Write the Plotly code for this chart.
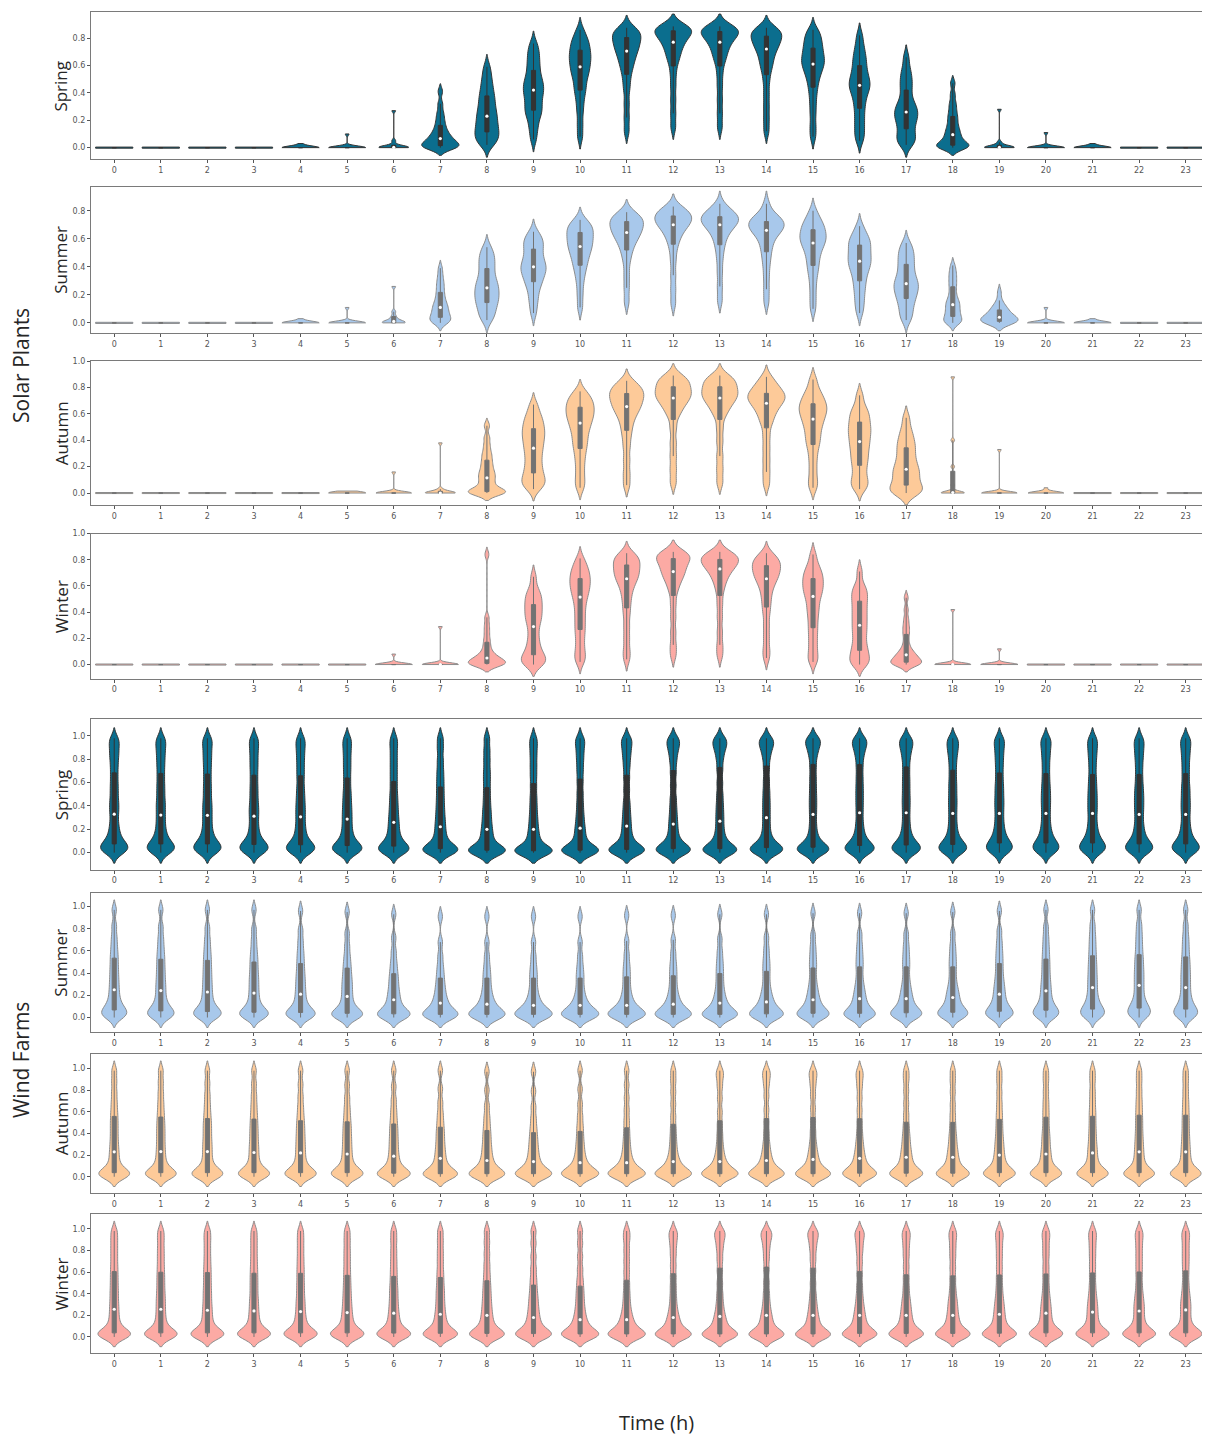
import numpy as np
import plotly.graph_objects as go

# ---------------- data: representative quantile samples read per hour ----------------
hours = list(range(24))
hour_labels = [str(h) for h in hours]

NIGHT = [0, 0, 0, 0, 0, 0, 0, 0, 0, 0, 0]

solar_spring = [
    NIGHT, NIGHT, NIGHT, NIGHT,
    [0, 0, 0, 0, 0, 0, 0, 0, 0, 0, 0.03],
    [0, 0, 0, 0, 0, 0, 0, 0, 0, 0.003, 0.10],
    [0, 0, 0, 0, 0, 0.002, 0.005, 0.01, 0.02, 0.05, 0.27],
    [0, 0, 0.002, 0.005, 0.01, 0.016, 0.025, 0.035, 0.045, 0.055, 0.066, 0.078, 0.092, 0.11, 0.13, 0.155, 0.185, 0.22, 0.26, 0.32, 0.41],
    [0.02, 0.04, 0.06, 0.08, 0.10, 0.12, 0.14, 0.16, 0.185, 0.21, 0.23, 0.255, 0.28, 0.31, 0.34, 0.37, 0.40, 0.44, 0.48, 0.53, 0.59],
    [0.06, 0.13, 0.18, 0.23, 0.255, 0.28, 0.31, 0.34, 0.37, 0.395, 0.42, 0.44, 0.465, 0.49, 0.515, 0.555, 0.59, 0.63, 0.67, 0.71, 0.76],
    [0.08, 0.17, 0.26, 0.33, 0.39, 0.43, 0.47, 0.51, 0.54, 0.565, 0.59, 0.615, 0.64, 0.66, 0.68, 0.705, 0.73, 0.755, 0.78, 0.81, 0.86],
    [0.12, 0.22, 0.32, 0.42, 0.49, 0.55, 0.59, 0.625, 0.655, 0.68, 0.705, 0.725, 0.745, 0.76, 0.78, 0.80, 0.815, 0.83, 0.845, 0.86, 0.875],
    [0.15, 0.25, 0.35, 0.45, 0.54, 0.615, 0.655, 0.69, 0.72, 0.745, 0.77, 0.79, 0.805, 0.82, 0.835, 0.85, 0.86, 0.87, 0.875, 0.88, 0.885],
    [0.15, 0.25, 0.35, 0.45, 0.54, 0.615, 0.655, 0.69, 0.72, 0.745, 0.77, 0.79, 0.805, 0.82, 0.83, 0.845, 0.855, 0.865, 0.87, 0.88, 0.885],
    [0.12, 0.21, 0.30, 0.39, 0.48, 0.55, 0.595, 0.63, 0.665, 0.695, 0.72, 0.74, 0.76, 0.775, 0.79, 0.81, 0.825, 0.84, 0.85, 0.86, 0.875],
    [0.08, 0.16, 0.25, 0.33, 0.40, 0.455, 0.50, 0.535, 0.565, 0.59, 0.61, 0.63, 0.65, 0.67, 0.695, 0.72, 0.745, 0.77, 0.80, 0.83, 0.86],
    [0.05, 0.10, 0.15, 0.20, 0.25, 0.30, 0.34, 0.38, 0.41, 0.435, 0.455, 0.475, 0.50, 0.525, 0.555, 0.59, 0.625, 0.66, 0.70, 0.75, 0.82],
    [0.02, 0.04, 0.06, 0.085, 0.115, 0.145, 0.175, 0.20, 0.22, 0.24, 0.26, 0.28, 0.30, 0.325, 0.36, 0.41, 0.45, 0.49, 0.53, 0.58, 0.66],
    [0.0, 0.0, 0.003, 0.008, 0.013, 0.02, 0.03, 0.045, 0.06, 0.077, 0.095, 0.115, 0.135, 0.16, 0.19, 0.22, 0.25, 0.29, 0.33, 0.39, 0.47],
    [0, 0, 0, 0, 0, 0.002, 0.005, 0.01, 0.02, 0.04, 0.28],
    [0, 0, 0, 0, 0, 0, 0, 0, 0, 0.002, 0.11],
    [0, 0, 0, 0, 0, 0, 0, 0, 0, 0, 0.03],
    NIGHT, NIGHT,
]

solar_summer = [
    NIGHT, NIGHT, NIGHT, NIGHT,
    [0, 0, 0, 0, 0, 0, 0, 0, 0, 0, 0.03],
    [0, 0, 0, 0, 0, 0, 0, 0, 0, 0.005, 0.11],
    [0, 0, 0, 0.002, 0.005, 0.01, 0.02, 0.03, 0.05, 0.08, 0.26],
    [0.0, 0.005, 0.012, 0.022, 0.032, 0.042, 0.055, 0.068, 0.082, 0.096, 0.11, 0.125, 0.14, 0.16, 0.185, 0.21, 0.24, 0.27, 0.30, 0.34, 0.39],
    [0.02, 0.045, 0.075, 0.105, 0.13, 0.15, 0.17, 0.19, 0.21, 0.23, 0.25, 0.27, 0.29, 0.315, 0.345, 0.38, 0.41, 0.44, 0.47, 0.50, 0.54],
    [0.07, 0.14, 0.19, 0.24, 0.275, 0.30, 0.325, 0.35, 0.37, 0.385, 0.40, 0.42, 0.44, 0.465, 0.49, 0.52, 0.545, 0.57, 0.59, 0.61, 0.65],
    [0.11, 0.20, 0.28, 0.34, 0.385, 0.42, 0.45, 0.48, 0.505, 0.525, 0.545, 0.565, 0.585, 0.60, 0.62, 0.64, 0.66, 0.675, 0.69, 0.71, 0.735],
    [0.15, 0.25, 0.34, 0.43, 0.49, 0.53, 0.565, 0.59, 0.61, 0.63, 0.645, 0.66, 0.675, 0.69, 0.705, 0.72, 0.73, 0.745, 0.755, 0.77, 0.79],
    [0.14, 0.24, 0.34, 0.44, 0.52, 0.575, 0.61, 0.64, 0.665, 0.685, 0.70, 0.712, 0.724, 0.736, 0.748, 0.76, 0.772, 0.785, 0.795, 0.81, 0.83],
    [0.16, 0.26, 0.36, 0.45, 0.52, 0.57, 0.61, 0.64, 0.665, 0.685, 0.70, 0.712, 0.723, 0.734, 0.745, 0.755, 0.767, 0.78, 0.79, 0.81, 0.85],
    [0.15, 0.24, 0.33, 0.41, 0.47, 0.52, 0.56, 0.595, 0.625, 0.645, 0.66, 0.672, 0.684, 0.696, 0.708, 0.72, 0.732, 0.745, 0.76, 0.78, 0.85],
    [0.10, 0.18, 0.26, 0.33, 0.38, 0.42, 0.46, 0.495, 0.525, 0.55, 0.57, 0.59, 0.605, 0.62, 0.64, 0.66, 0.68, 0.70, 0.72, 0.75, 0.80],
    [0.07, 0.13, 0.18, 0.23, 0.27, 0.31, 0.345, 0.375, 0.40, 0.42, 0.44, 0.46, 0.48, 0.505, 0.525, 0.55, 0.57, 0.59, 0.61, 0.64, 0.69],
    [0.02, 0.05, 0.09, 0.125, 0.155, 0.18, 0.205, 0.225, 0.245, 0.265, 0.28, 0.30, 0.32, 0.35, 0.38, 0.41, 0.44, 0.47, 0.50, 0.53, 0.57],
    [0.0, 0.003, 0.01, 0.02, 0.035, 0.05, 0.065, 0.08, 0.097, 0.113, 0.13, 0.145, 0.16, 0.185, 0.215, 0.25, 0.28, 0.31, 0.34, 0.37, 0.41],
    [0, 0, 0, 0.003, 0.007, 0.012, 0.018, 0.025, 0.03, 0.035, 0.04, 0.047, 0.055, 0.065, 0.075, 0.09, 0.10, 0.11, 0.13, 0.16, 0.22],
    [0, 0, 0, 0, 0, 0, 0, 0, 0, 0.003, 0.11],
    [0, 0, 0, 0, 0, 0, 0, 0, 0, 0, 0.03],
    NIGHT, NIGHT,
]

solar_autumn = [
    NIGHT, NIGHT, NIGHT, NIGHT, NIGHT,
    [0, 0, 0, 0, 0, 0, 0, 0, 0, 0, 0.015],
    [0, 0, 0, 0, 0, 0, 0, 0, 0, 0.003, 0.16],
    [0, 0, 0, 0, 0, 0, 0.003, 0.008, 0.015, 0.03, 0.38],
    [0, 0, 0.002, 0.005, 0.008, 0.012, 0.025, 0.045, 0.07, 0.092, 0.115, 0.135, 0.155, 0.18, 0.21, 0.24, 0.275, 0.31, 0.36, 0.42, 0.51],
    [0.03, 0.06, 0.08, 0.10, 0.13, 0.16, 0.195, 0.23, 0.27, 0.305, 0.34, 0.37, 0.40, 0.43, 0.455, 0.48, 0.51, 0.54, 0.57, 0.61, 0.67],
    [0.04, 0.10, 0.17, 0.24, 0.30, 0.35, 0.39, 0.43, 0.47, 0.50, 0.53, 0.555, 0.58, 0.60, 0.62, 0.645, 0.665, 0.685, 0.71, 0.735, 0.77],
    [0.06, 0.15, 0.25, 0.35, 0.43, 0.49, 0.54, 0.58, 0.61, 0.635, 0.655, 0.675, 0.695, 0.715, 0.73, 0.75, 0.765, 0.78, 0.80, 0.82, 0.85],
    [0.08, 0.18, 0.28, 0.38, 0.49, 0.58, 0.62, 0.655, 0.68, 0.70, 0.72, 0.735, 0.75, 0.765, 0.78, 0.80, 0.82, 0.84, 0.855, 0.87, 0.89],
    [0.08, 0.18, 0.28, 0.39, 0.49, 0.58, 0.62, 0.655, 0.68, 0.70, 0.72, 0.735, 0.75, 0.765, 0.78, 0.80, 0.82, 0.84, 0.855, 0.87, 0.89],
    [0.07, 0.16, 0.25, 0.34, 0.43, 0.515, 0.56, 0.60, 0.63, 0.655, 0.68, 0.695, 0.71, 0.725, 0.738, 0.75, 0.77, 0.79, 0.81, 0.84, 0.88],
    [0.04, 0.10, 0.18, 0.26, 0.33, 0.38, 0.42, 0.46, 0.50, 0.53, 0.56, 0.585, 0.61, 0.63, 0.65, 0.67, 0.695, 0.72, 0.75, 0.79, 0.86],
    [0.03, 0.06, 0.09, 0.13, 0.18, 0.22, 0.26, 0.29, 0.33, 0.36, 0.39, 0.42, 0.45, 0.475, 0.50, 0.53, 0.56, 0.59, 0.62, 0.66, 0.74],
    [0.0, 0.003, 0.01, 0.025, 0.045, 0.065, 0.09, 0.115, 0.14, 0.16, 0.18, 0.205, 0.235, 0.265, 0.30, 0.335, 0.365, 0.40, 0.44, 0.49, 0.57],
    [0, 0, 0, 0, 0.001, 0.004, 0.015, 0.06, 0.20, 0.40, 0.88],
    [0, 0, 0, 0, 0, 0, 0, 0, 0, 0.003, 0.33],
    [0, 0, 0, 0, 0, 0, 0, 0, 0, 0, 0.04],
    NIGHT, NIGHT, NIGHT,
]

solar_winter = [
    NIGHT, NIGHT, NIGHT, NIGHT, NIGHT, NIGHT,
    [0, 0, 0, 0, 0, 0, 0, 0, 0, 0, 0.08],
    [0, 0, 0, 0, 0, 0, 0, 0, 0.003, 0.01, 0.29],
    [0, 0, 0, 0.002, 0.005, 0.01, 0.017, 0.025, 0.033, 0.041, 0.05, 0.062, 0.075, 0.095, 0.125, 0.16, 0.20, 0.25, 0.30, 0.36, 0.84],
    [0.0, 0.005, 0.02, 0.04, 0.06, 0.08, 0.11, 0.15, 0.19, 0.24, 0.29, 0.33, 0.36, 0.39, 0.42, 0.45, 0.48, 0.51, 0.54, 0.58, 0.67],
    [0.02, 0.06, 0.11, 0.17, 0.23, 0.28, 0.33, 0.38, 0.43, 0.475, 0.515, 0.545, 0.575, 0.60, 0.625, 0.65, 0.675, 0.70, 0.73, 0.76, 0.81],
    [0.04, 0.11, 0.20, 0.29, 0.38, 0.45, 0.51, 0.56, 0.60, 0.63, 0.655, 0.675, 0.695, 0.715, 0.735, 0.755, 0.775, 0.795, 0.81, 0.83, 0.85],
    [0.07, 0.15, 0.25, 0.36, 0.46, 0.55, 0.60, 0.64, 0.665, 0.69, 0.71, 0.73, 0.75, 0.77, 0.79, 0.805, 0.82, 0.83, 0.84, 0.85, 0.86],
    [0.07, 0.15, 0.25, 0.36, 0.46, 0.55, 0.61, 0.65, 0.68, 0.71, 0.73, 0.745, 0.76, 0.775, 0.79, 0.80, 0.81, 0.825, 0.835, 0.845, 0.86],
    [0.05, 0.12, 0.21, 0.30, 0.39, 0.455, 0.51, 0.56, 0.60, 0.63, 0.655, 0.675, 0.695, 0.715, 0.73, 0.75, 0.77, 0.785, 0.80, 0.82, 0.85],
    [0.02, 0.06, 0.12, 0.18, 0.24, 0.295, 0.35, 0.40, 0.44, 0.485, 0.52, 0.55, 0.575, 0.60, 0.625, 0.65, 0.675, 0.70, 0.73, 0.77, 0.84],
    [0.0, 0.01, 0.03, 0.06, 0.09, 0.115, 0.15, 0.19, 0.23, 0.265, 0.30, 0.335, 0.37, 0.405, 0.44, 0.475, 0.51, 0.54, 0.57, 0.61, 0.71],
    [0.0, 0.0, 0.003, 0.008, 0.014, 0.02, 0.03, 0.042, 0.052, 0.063, 0.074, 0.088, 0.105, 0.13, 0.17, 0.22, 0.26, 0.30, 0.35, 0.42, 0.51],
    [0, 0, 0, 0, 0, 0, 0, 0, 0.003, 0.01, 0.42],
    [0, 0, 0, 0, 0, 0, 0, 0, 0, 0, 0.12],
    NIGHT, NIGHT, NIGHT, NIGHT,
]

wind_spring = [
    [0.0, 0.015, 0.03, 0.045, 0.06, 0.08, 0.11, 0.15, 0.20, 0.26, 0.33, 0.39, 0.45, 0.52, 0.59, 0.665, 0.74, 0.81, 0.87, 0.93, 0.98],
    [0.0, 0.015, 0.03, 0.045, 0.06, 0.08, 0.11, 0.15, 0.20, 0.26, 0.322, 0.385, 0.445, 0.515, 0.585, 0.66, 0.735, 0.805, 0.87, 0.93, 0.98],
    [0.0, 0.015, 0.03, 0.045, 0.06, 0.08, 0.11, 0.15, 0.20, 0.26, 0.32, 0.38, 0.44, 0.51, 0.58, 0.655, 0.73, 0.80, 0.865, 0.93, 0.98],
    [0.0, 0.012, 0.027, 0.042, 0.057, 0.075, 0.10, 0.14, 0.19, 0.25, 0.313, 0.37, 0.43, 0.50, 0.57, 0.645, 0.72, 0.79, 0.86, 0.925, 0.98],
    [0.0, 0.012, 0.026, 0.04, 0.055, 0.072, 0.10, 0.14, 0.19, 0.245, 0.307, 0.365, 0.425, 0.49, 0.56, 0.64, 0.715, 0.79, 0.86, 0.925, 0.98],
    [0.0, 0.01, 0.022, 0.036, 0.05, 0.065, 0.09, 0.13, 0.175, 0.23, 0.288, 0.345, 0.405, 0.47, 0.54, 0.62, 0.70, 0.775, 0.85, 0.92, 0.98],
    [0.0, 0.01, 0.02, 0.032, 0.045, 0.06, 0.085, 0.12, 0.16, 0.21, 0.26, 0.315, 0.375, 0.44, 0.51, 0.59, 0.67, 0.75, 0.83, 0.91, 0.98],
    [0.0, 0.006, 0.012, 0.02, 0.028, 0.037, 0.055, 0.085, 0.125, 0.17, 0.222, 0.275, 0.335, 0.40, 0.47, 0.544, 0.62, 0.70, 0.79, 0.89, 0.98],
    [0.0, 0.004, 0.008, 0.013, 0.018, 0.023, 0.04, 0.07, 0.11, 0.155, 0.20, 0.255, 0.315, 0.38, 0.455, 0.536, 0.62, 0.70, 0.79, 0.88, 0.98],
    [0.0, 0.003, 0.006, 0.01, 0.014, 0.017, 0.035, 0.065, 0.105, 0.15, 0.20, 0.26, 0.325, 0.40, 0.48, 0.57, 0.66, 0.745, 0.83, 0.91, 0.98],
    [0.0, 0.004, 0.008, 0.013, 0.018, 0.023, 0.04, 0.07, 0.11, 0.16, 0.21, 0.27, 0.34, 0.42, 0.51, 0.607, 0.70, 0.785, 0.86, 0.93, 0.98],
    [0.0, 0.005, 0.01, 0.016, 0.023, 0.03, 0.05, 0.08, 0.12, 0.17, 0.228, 0.29, 0.36, 0.44, 0.54, 0.64, 0.735, 0.815, 0.88, 0.94, 0.98],
    [0.0, 0.006, 0.012, 0.02, 0.028, 0.037, 0.06, 0.09, 0.13, 0.185, 0.245, 0.31, 0.385, 0.47, 0.575, 0.68, 0.775, 0.85, 0.905, 0.95, 0.98],
    [0.0, 0.006, 0.012, 0.02, 0.028, 0.037, 0.06, 0.095, 0.14, 0.20, 0.27, 0.34, 0.415, 0.50, 0.60, 0.707, 0.80, 0.87, 0.915, 0.955, 0.98],
    [0.0, 0.008, 0.016, 0.026, 0.036, 0.046, 0.07, 0.105, 0.155, 0.225, 0.30, 0.375, 0.45, 0.53, 0.62, 0.72, 0.81, 0.875, 0.92, 0.955, 0.98],
    [0.0, 0.008, 0.018, 0.028, 0.039, 0.05, 0.075, 0.115, 0.17, 0.245, 0.328, 0.405, 0.48, 0.56, 0.645, 0.735, 0.82, 0.88, 0.925, 0.96, 0.98],
    [0.0, 0.012, 0.024, 0.037, 0.051, 0.066, 0.095, 0.135, 0.19, 0.26, 0.342, 0.42, 0.495, 0.57, 0.65, 0.735, 0.815, 0.875, 0.92, 0.955, 0.98],
    [0.0, 0.012, 0.025, 0.039, 0.054, 0.07, 0.10, 0.14, 0.195, 0.265, 0.342, 0.415, 0.485, 0.56, 0.635, 0.715, 0.795, 0.86, 0.91, 0.95, 0.98],
    [0.0, 0.013, 0.027, 0.042, 0.058, 0.075, 0.105, 0.145, 0.20, 0.265, 0.336, 0.405, 0.47, 0.54, 0.61, 0.687, 0.765, 0.835, 0.89, 0.94, 0.98],
    [0.0, 0.016, 0.032, 0.05, 0.068, 0.088, 0.12, 0.16, 0.21, 0.27, 0.336, 0.40, 0.46, 0.525, 0.59, 0.664, 0.74, 0.81, 0.875, 0.935, 0.98],
    [0.0, 0.016, 0.032, 0.05, 0.068, 0.088, 0.12, 0.16, 0.21, 0.27, 0.336, 0.40, 0.46, 0.52, 0.585, 0.658, 0.735, 0.81, 0.875, 0.935, 0.98],
    [0.0, 0.016, 0.032, 0.05, 0.068, 0.088, 0.12, 0.16, 0.21, 0.27, 0.336, 0.395, 0.455, 0.515, 0.58, 0.65, 0.73, 0.805, 0.87, 0.93, 0.98],
    [0.0, 0.015, 0.03, 0.045, 0.062, 0.08, 0.11, 0.15, 0.20, 0.26, 0.328, 0.39, 0.45, 0.51, 0.575, 0.65, 0.73, 0.805, 0.87, 0.93, 0.98],
    [0.0, 0.015, 0.03, 0.045, 0.062, 0.08, 0.11, 0.15, 0.20, 0.26, 0.328, 0.39, 0.45, 0.515, 0.58, 0.658, 0.735, 0.81, 0.875, 0.935, 0.98],
]

wind_summer = [
    [0.0, 0.012, 0.025, 0.04, 0.055, 0.072, 0.095, 0.125, 0.16, 0.205, 0.25, 0.30, 0.35, 0.405, 0.46, 0.52, 0.58, 0.65, 0.73, 0.83, 0.97],
    [0.0, 0.011, 0.022, 0.035, 0.048, 0.063, 0.085, 0.115, 0.15, 0.195, 0.243, 0.29, 0.34, 0.395, 0.45, 0.51, 0.57, 0.64, 0.72, 0.82, 0.97],
    [0.0, 0.01, 0.02, 0.032, 0.044, 0.057, 0.078, 0.105, 0.14, 0.185, 0.23, 0.28, 0.33, 0.385, 0.44, 0.50, 0.56, 0.63, 0.71, 0.81, 0.97],
    [0.0, 0.009, 0.018, 0.028, 0.039, 0.05, 0.07, 0.097, 0.13, 0.175, 0.22, 0.27, 0.32, 0.37, 0.425, 0.485, 0.545, 0.615, 0.70, 0.80, 0.97],
    [0.0, 0.008, 0.017, 0.027, 0.037, 0.048, 0.067, 0.092, 0.125, 0.165, 0.21, 0.255, 0.305, 0.355, 0.41, 0.47, 0.535, 0.605, 0.69, 0.79, 0.96],
    [0.0, 0.007, 0.014, 0.022, 0.031, 0.04, 0.056, 0.08, 0.11, 0.148, 0.19, 0.235, 0.28, 0.325, 0.375, 0.43, 0.49, 0.56, 0.65, 0.76, 0.95],
    [0.0, 0.006, 0.012, 0.019, 0.027, 0.035, 0.05, 0.07, 0.095, 0.125, 0.16, 0.195, 0.235, 0.28, 0.33, 0.38, 0.44, 0.51, 0.60, 0.72, 0.93],
    [0.0, 0.005, 0.01, 0.016, 0.023, 0.03, 0.042, 0.058, 0.078, 0.102, 0.13, 0.16, 0.195, 0.24, 0.285, 0.34, 0.40, 0.47, 0.56, 0.68, 0.91],
    [0.0, 0.005, 0.01, 0.016, 0.023, 0.03, 0.04, 0.055, 0.074, 0.096, 0.12, 0.15, 0.185, 0.23, 0.28, 0.34, 0.40, 0.47, 0.56, 0.68, 0.91],
    [0.0, 0.005, 0.01, 0.016, 0.023, 0.03, 0.04, 0.053, 0.07, 0.09, 0.11, 0.14, 0.175, 0.22, 0.275, 0.34, 0.40, 0.47, 0.56, 0.68, 0.91],
    [0.0, 0.005, 0.01, 0.016, 0.023, 0.03, 0.04, 0.053, 0.07, 0.09, 0.11, 0.14, 0.175, 0.22, 0.275, 0.34, 0.40, 0.47, 0.56, 0.68, 0.91],
    [0.0, 0.005, 0.01, 0.016, 0.023, 0.03, 0.04, 0.053, 0.07, 0.09, 0.11, 0.14, 0.18, 0.225, 0.285, 0.35, 0.415, 0.485, 0.575, 0.69, 0.92],
    [0.0, 0.005, 0.01, 0.016, 0.023, 0.03, 0.04, 0.055, 0.074, 0.096, 0.12, 0.15, 0.19, 0.235, 0.295, 0.36, 0.425, 0.495, 0.585, 0.70, 0.92],
    [0.0, 0.005, 0.01, 0.016, 0.023, 0.03, 0.042, 0.058, 0.078, 0.102, 0.13, 0.165, 0.205, 0.255, 0.315, 0.38, 0.445, 0.515, 0.60, 0.71, 0.93],
    [0.0, 0.006, 0.012, 0.019, 0.027, 0.035, 0.048, 0.066, 0.088, 0.112, 0.14, 0.175, 0.215, 0.265, 0.33, 0.40, 0.465, 0.535, 0.62, 0.725, 0.93],
    [0.0, 0.007, 0.014, 0.022, 0.031, 0.04, 0.055, 0.075, 0.10, 0.128, 0.16, 0.197, 0.24, 0.29, 0.355, 0.43, 0.495, 0.565, 0.645, 0.745, 0.94],
    [0.0, 0.007, 0.014, 0.022, 0.031, 0.04, 0.056, 0.078, 0.105, 0.135, 0.17, 0.207, 0.25, 0.30, 0.365, 0.44, 0.505, 0.575, 0.655, 0.755, 0.94],
    [0.0, 0.008, 0.016, 0.025, 0.035, 0.045, 0.06, 0.08, 0.107, 0.137, 0.17, 0.207, 0.25, 0.30, 0.365, 0.44, 0.505, 0.575, 0.655, 0.755, 0.94],
    [0.0, 0.009, 0.018, 0.028, 0.039, 0.05, 0.067, 0.088, 0.115, 0.146, 0.18, 0.215, 0.255, 0.305, 0.37, 0.44, 0.505, 0.575, 0.655, 0.76, 0.95],
    [0.0, 0.01, 0.021, 0.033, 0.046, 0.06, 0.08, 0.105, 0.135, 0.17, 0.21, 0.25, 0.295, 0.345, 0.405, 0.47, 0.535, 0.605, 0.685, 0.785, 0.96],
    [0.0, 0.012, 0.025, 0.039, 0.054, 0.07, 0.092, 0.12, 0.155, 0.195, 0.24, 0.285, 0.335, 0.39, 0.45, 0.51, 0.575, 0.645, 0.725, 0.82, 0.97],
    [0.0, 0.014, 0.029, 0.045, 0.062, 0.08, 0.105, 0.137, 0.175, 0.22, 0.27, 0.32, 0.37, 0.425, 0.48, 0.54, 0.605, 0.675, 0.75, 0.84, 0.97],
    [0.0, 0.016, 0.033, 0.051, 0.07, 0.09, 0.115, 0.148, 0.19, 0.24, 0.29, 0.34, 0.39, 0.44, 0.495, 0.55, 0.615, 0.685, 0.76, 0.845, 0.97],
    [0.0, 0.014, 0.029, 0.045, 0.062, 0.08, 0.105, 0.137, 0.175, 0.22, 0.27, 0.32, 0.37, 0.42, 0.475, 0.53, 0.595, 0.665, 0.74, 0.835, 0.97],
]

wind_autumn = [
    [0.0, 0.007, 0.014, 0.022, 0.031, 0.04, 0.06, 0.09, 0.13, 0.18, 0.23, 0.285, 0.345, 0.41, 0.475, 0.54, 0.61, 0.69, 0.78, 0.88, 0.98],
    [0.0, 0.007, 0.014, 0.022, 0.031, 0.04, 0.06, 0.09, 0.13, 0.18, 0.233, 0.29, 0.35, 0.41, 0.47, 0.534, 0.605, 0.685, 0.775, 0.875, 0.98],
    [0.0, 0.007, 0.014, 0.022, 0.031, 0.04, 0.06, 0.09, 0.13, 0.18, 0.233, 0.285, 0.34, 0.40, 0.46, 0.52, 0.59, 0.67, 0.76, 0.865, 0.98],
    [0.0, 0.007, 0.014, 0.022, 0.031, 0.04, 0.058, 0.087, 0.125, 0.172, 0.224, 0.275, 0.33, 0.39, 0.45, 0.515, 0.585, 0.665, 0.755, 0.86, 0.98],
    [0.0, 0.007, 0.014, 0.022, 0.031, 0.04, 0.058, 0.086, 0.123, 0.168, 0.22, 0.27, 0.325, 0.38, 0.44, 0.50, 0.57, 0.65, 0.745, 0.855, 0.98],
    [0.0, 0.007, 0.014, 0.022, 0.031, 0.04, 0.057, 0.083, 0.118, 0.16, 0.21, 0.26, 0.315, 0.37, 0.43, 0.49, 0.56, 0.64, 0.735, 0.85, 0.98],
    [0.0, 0.006, 0.012, 0.019, 0.027, 0.035, 0.05, 0.074, 0.105, 0.145, 0.19, 0.24, 0.295, 0.35, 0.41, 0.47, 0.54, 0.62, 0.715, 0.835, 0.98],
    [0.0, 0.005, 0.01, 0.016, 0.023, 0.03, 0.044, 0.065, 0.093, 0.128, 0.17, 0.215, 0.265, 0.32, 0.38, 0.44, 0.51, 0.59, 0.69, 0.815, 0.98],
    [0.0, 0.005, 0.01, 0.016, 0.023, 0.03, 0.042, 0.06, 0.084, 0.114, 0.15, 0.19, 0.24, 0.29, 0.35, 0.41, 0.48, 0.56, 0.66, 0.80, 0.97],
    [0.0, 0.005, 0.01, 0.016, 0.023, 0.03, 0.041, 0.057, 0.079, 0.107, 0.14, 0.18, 0.225, 0.275, 0.33, 0.39, 0.46, 0.545, 0.65, 0.79, 0.97],
    [0.0, 0.005, 0.01, 0.016, 0.023, 0.03, 0.04, 0.055, 0.075, 0.10, 0.13, 0.17, 0.215, 0.27, 0.33, 0.40, 0.475, 0.565, 0.675, 0.81, 0.98],
    [0.0, 0.005, 0.01, 0.016, 0.023, 0.03, 0.04, 0.055, 0.075, 0.10, 0.13, 0.17, 0.22, 0.28, 0.35, 0.43, 0.52, 0.62, 0.73, 0.85, 0.98],
    [0.0, 0.005, 0.01, 0.016, 0.023, 0.03, 0.041, 0.057, 0.079, 0.107, 0.14, 0.18, 0.235, 0.30, 0.375, 0.46, 0.56, 0.67, 0.78, 0.885, 0.98],
    [0.0, 0.005, 0.01, 0.016, 0.023, 0.03, 0.041, 0.057, 0.079, 0.107, 0.14, 0.185, 0.24, 0.31, 0.395, 0.49, 0.60, 0.72, 0.83, 0.92, 0.98],
    [0.0, 0.005, 0.01, 0.016, 0.023, 0.03, 0.042, 0.06, 0.084, 0.114, 0.15, 0.195, 0.25, 0.32, 0.41, 0.51, 0.62, 0.74, 0.845, 0.925, 0.98],
    [0.0, 0.005, 0.01, 0.016, 0.023, 0.03, 0.043, 0.062, 0.088, 0.12, 0.16, 0.205, 0.26, 0.33, 0.42, 0.52, 0.63, 0.745, 0.845, 0.925, 0.98],
    [0.0, 0.006, 0.012, 0.019, 0.027, 0.035, 0.05, 0.07, 0.096, 0.13, 0.17, 0.215, 0.27, 0.335, 0.415, 0.51, 0.615, 0.725, 0.83, 0.915, 0.98],
    [0.0, 0.006, 0.012, 0.019, 0.027, 0.035, 0.051, 0.074, 0.104, 0.14, 0.18, 0.225, 0.275, 0.335, 0.40, 0.48, 0.575, 0.68, 0.79, 0.895, 0.98],
    [0.0, 0.006, 0.012, 0.019, 0.027, 0.035, 0.051, 0.074, 0.104, 0.14, 0.18, 0.225, 0.275, 0.335, 0.40, 0.48, 0.57, 0.67, 0.78, 0.885, 0.98],
    [0.0, 0.007, 0.014, 0.022, 0.031, 0.04, 0.057, 0.082, 0.115, 0.155, 0.20, 0.25, 0.305, 0.365, 0.435, 0.51, 0.59, 0.68, 0.78, 0.885, 0.98],
    [0.0, 0.007, 0.014, 0.022, 0.031, 0.04, 0.058, 0.085, 0.12, 0.163, 0.21, 0.26, 0.32, 0.38, 0.45, 0.53, 0.61, 0.695, 0.79, 0.89, 0.98],
    [0.0, 0.007, 0.014, 0.022, 0.031, 0.04, 0.058, 0.086, 0.123, 0.168, 0.22, 0.27, 0.33, 0.395, 0.465, 0.54, 0.615, 0.70, 0.79, 0.89, 0.98],
    [0.0, 0.007, 0.014, 0.022, 0.031, 0.04, 0.06, 0.09, 0.13, 0.178, 0.23, 0.285, 0.345, 0.41, 0.48, 0.55, 0.625, 0.705, 0.795, 0.89, 0.98],
    [0.0, 0.007, 0.014, 0.022, 0.031, 0.04, 0.06, 0.09, 0.13, 0.178, 0.23, 0.285, 0.345, 0.41, 0.48, 0.55, 0.625, 0.705, 0.795, 0.89, 0.98],
]

wind_winter = [
    [0.0, 0.007, 0.014, 0.022, 0.031, 0.04, 0.063, 0.098, 0.145, 0.198, 0.256, 0.315, 0.38, 0.445, 0.515, 0.586, 0.66, 0.74, 0.82, 0.90, 0.98],
    [0.0, 0.007, 0.014, 0.022, 0.031, 0.04, 0.063, 0.098, 0.145, 0.198, 0.256, 0.315, 0.375, 0.44, 0.51, 0.58, 0.655, 0.735, 0.815, 0.90, 0.98],
    [0.0, 0.007, 0.014, 0.022, 0.031, 0.04, 0.062, 0.095, 0.14, 0.192, 0.247, 0.305, 0.37, 0.435, 0.505, 0.577, 0.65, 0.73, 0.815, 0.90, 0.98],
    [0.0, 0.007, 0.014, 0.022, 0.031, 0.04, 0.062, 0.094, 0.137, 0.187, 0.241, 0.30, 0.36, 0.43, 0.50, 0.571, 0.645, 0.725, 0.81, 0.895, 0.98],
    [0.0, 0.007, 0.014, 0.022, 0.031, 0.04, 0.061, 0.092, 0.134, 0.182, 0.235, 0.295, 0.355, 0.425, 0.495, 0.57, 0.645, 0.725, 0.81, 0.895, 0.98],
    [0.0, 0.007, 0.014, 0.022, 0.031, 0.04, 0.06, 0.09, 0.13, 0.175, 0.225, 0.28, 0.34, 0.405, 0.475, 0.55, 0.63, 0.715, 0.80, 0.89, 0.98],
    [0.0, 0.007, 0.014, 0.021, 0.029, 0.038, 0.058, 0.088, 0.127, 0.171, 0.22, 0.275, 0.335, 0.40, 0.465, 0.54, 0.62, 0.705, 0.795, 0.89, 0.98],
    [0.0, 0.006, 0.013, 0.02, 0.028, 0.036, 0.055, 0.083, 0.12, 0.163, 0.21, 0.265, 0.325, 0.39, 0.455, 0.53, 0.61, 0.70, 0.79, 0.885, 0.98],
    [0.0, 0.006, 0.012, 0.019, 0.027, 0.035, 0.053, 0.08, 0.115, 0.155, 0.20, 0.25, 0.305, 0.365, 0.43, 0.50, 0.58, 0.67, 0.77, 0.875, 0.98],
    [0.0, 0.006, 0.012, 0.018, 0.025, 0.033, 0.05, 0.074, 0.105, 0.14, 0.18, 0.225, 0.275, 0.33, 0.39, 0.46, 0.54, 0.635, 0.745, 0.865, 0.98],
    [0.0, 0.005, 0.01, 0.016, 0.023, 0.03, 0.045, 0.066, 0.094, 0.125, 0.16, 0.205, 0.255, 0.315, 0.38, 0.45, 0.53, 0.63, 0.745, 0.865, 0.98],
    [0.0, 0.005, 0.01, 0.016, 0.023, 0.03, 0.045, 0.066, 0.094, 0.125, 0.16, 0.205, 0.26, 0.33, 0.41, 0.50, 0.60, 0.70, 0.80, 0.90, 0.98],
    [0.0, 0.005, 0.01, 0.016, 0.023, 0.03, 0.047, 0.072, 0.105, 0.14, 0.18, 0.23, 0.295, 0.375, 0.465, 0.56, 0.66, 0.76, 0.85, 0.925, 0.98],
    [0.0, 0.005, 0.01, 0.016, 0.023, 0.03, 0.048, 0.075, 0.11, 0.148, 0.19, 0.245, 0.315, 0.40, 0.50, 0.61, 0.715, 0.81, 0.885, 0.945, 0.98],
    [0.0, 0.005, 0.01, 0.016, 0.023, 0.03, 0.049, 0.078, 0.115, 0.155, 0.20, 0.255, 0.325, 0.41, 0.51, 0.62, 0.725, 0.815, 0.89, 0.945, 0.98],
    [0.0, 0.005, 0.01, 0.016, 0.023, 0.03, 0.049, 0.078, 0.115, 0.155, 0.20, 0.255, 0.32, 0.40, 0.50, 0.61, 0.715, 0.81, 0.885, 0.945, 0.98],
    [0.0, 0.006, 0.012, 0.019, 0.027, 0.035, 0.054, 0.082, 0.117, 0.156, 0.20, 0.25, 0.31, 0.385, 0.475, 0.58, 0.685, 0.785, 0.865, 0.935, 0.98],
    [0.0, 0.006, 0.012, 0.019, 0.027, 0.035, 0.054, 0.082, 0.117, 0.156, 0.20, 0.25, 0.305, 0.37, 0.455, 0.55, 0.65, 0.75, 0.84, 0.92, 0.98],
    [0.0, 0.006, 0.012, 0.019, 0.027, 0.035, 0.054, 0.082, 0.117, 0.156, 0.20, 0.25, 0.305, 0.365, 0.445, 0.54, 0.64, 0.74, 0.83, 0.915, 0.98],
    [0.0, 0.006, 0.013, 0.02, 0.028, 0.037, 0.056, 0.085, 0.122, 0.164, 0.21, 0.26, 0.315, 0.38, 0.46, 0.55, 0.645, 0.74, 0.83, 0.915, 0.98],
    [0.0, 0.007, 0.014, 0.022, 0.031, 0.04, 0.06, 0.09, 0.128, 0.172, 0.22, 0.27, 0.325, 0.39, 0.47, 0.56, 0.65, 0.745, 0.83, 0.915, 0.98],
    [0.0, 0.007, 0.014, 0.022, 0.031, 0.04, 0.061, 0.093, 0.133, 0.18, 0.23, 0.28, 0.335, 0.40, 0.48, 0.57, 0.66, 0.75, 0.835, 0.915, 0.98],
    [0.0, 0.007, 0.014, 0.022, 0.031, 0.04, 0.062, 0.095, 0.137, 0.187, 0.24, 0.29, 0.345, 0.41, 0.49, 0.58, 0.665, 0.75, 0.835, 0.915, 0.98],
    [0.0, 0.007, 0.014, 0.022, 0.031, 0.04, 0.063, 0.097, 0.142, 0.195, 0.25, 0.30, 0.355, 0.42, 0.50, 0.59, 0.675, 0.755, 0.835, 0.915, 0.98],
]

# ---------------- styling / layout ----------------
W, H, OFF = 1202, 1432, 8
FILL = {"Spring": "#0b6e8e", "Summer": "#a8c8eb", "Autumn": "#fdca99", "Winter": "#fcaaa4"}
EDGE = {"Spring": "#353535", "Summer": "#8c8c8c", "Autumn": "#8c8c8c", "Winter": "#8c8c8c"}
BOXC = {"Spring": "#333333", "Summer": "#737373", "Autumn": "#737373", "Winter": "#737373"}

# (page top px, page bottom px, y range, season, dataset, kind)
panels = [
    (8, 155.7, [-0.085, 0.99], "Spring", solar_spring, "solar"),
    (183, 330, [-0.073, 0.973], "Summer", solar_summer, "solar"),
    (358, 502.7, [-0.093, 1.0], "Autumn", solar_autumn, "solar"),
    (531, 676.7, [-0.109, 1.0], "Winter", solar_winter, "solar"),
    (717, 868, [-0.145, 1.145], "Spring", wind_spring, "wind"),
    (891.7, 1031, [-0.132, 1.12], "Summer", wind_summer, "wind"),
    (1052.7, 1192.3, [-0.15, 1.136], "Autumn", wind_autumn, "wind"),
    (1213.3, 1352.7, [-0.148, 1.138], "Winter", wind_winter, "wind"),
]


def py(p):
    return 1 - (p - OFF) / H


def px(p):
    return (p - OFF) / W


fig = go.Figure()
layout_axes = {}
annotations = []
X0 = px(91)
TICKFONT = dict(size=8, color="#555", family="DejaVu Sans")

for i, (top, bot, yr, season, data, kind) in enumerate(panels):
    n = "" if i == 0 else str(i + 1)
    xa, ya = "x" + n, "y" + n
    layout_axes["xaxis" + n] = dict(
        domain=[X0, 1.0], anchor=ya, range=[-0.5, 23.5],
        tickmode="array", tickvals=hours, ticktext=hour_labels,
        ticks="outside", ticklen=3, tickwidth=1, tickcolor="#555", tickfont=TICKFONT,
        showline=True, mirror=True, linecolor="#7a7a7a", linewidth=1,
        showgrid=False, zeroline=False, fixedrange=True,
    )
    layout_axes["yaxis" + n] = dict(
        domain=[py(bot), min(1.0, py(top))], anchor=xa, range=yr,
        tickmode="linear", tick0=0, dtick=0.2, tickformat=".1f",
        ticks="outside", ticklen=3, tickwidth=1, tickcolor="#555", tickfont=TICKFONT,
        showline=True, mirror=True, linecolor="#7a7a7a", linewidth=1,
        showgrid=False, zeroline=False, fixedrange=True,
    )
    annotations.append(dict(
        text=season, x=px(61), y=py((top + bot) / 2), xref="paper", yref="paper",
        textangle=-90, showarrow=False, xanchor="center", yanchor="middle",
        font=dict(size=17, color="#262626", family="Open Sans"),
    ))

    # group the hours by their data so that every violin gets a suitable span / bandwidth
    if kind == "solar":
        med = {h: float(np.median(data[h])) for h in hours}
        flat = [h for h in hours if max(data[h]) == 0]
        low = [h for h in hours if max(data[h]) > 0 and med[h] < 0.02]
        shoulder = [h for h in hours if 0.02 <= med[h] < 0.15]
        day = [h for h in hours if med[h] >= 0.15]
        groups = [(flat, "manual", 0.05, [-0.004, 0.004]),
                  (low, "hard", 0.012, None),
                  (shoulder, "soft", 0.028, None),
                  (day, "soft", 0.045, None)]
    else:
        groups = [(hours, "soft", 0.045, None)]

    for hrs, spanmode, bw, span in groups:
        if not hrs:
            continue
        xs, ys = [], []
        for h in hrs:
            xs += [h] * len(data[h])
            ys += list(data[h])
        kw = dict(span=span) if span is not None else {}
        fig.add_trace(go.Violin(
            x=xs, y=ys, xaxis=xa, yaxis=ya, width=0.8,
            spanmode=spanmode, bandwidth=bw, scalemode="width",
            fillcolor=FILL[season], opacity=1,
            line=dict(color=EDGE[season], width=1),
            box=dict(visible=True, width=0.11, fillcolor=BOXC[season],
                     line=dict(color=BOXC[season], width=1)),
            meanline=dict(visible=False), points=False,
            hoverinfo="skip", showlegend=False, **kw,
        ))

    # white median dots (only where the box has height)
    mx = [h for h in hours if np.percentile(data[h], 75) > np.percentile(data[h], 25)]
    my = [float(np.median(data[h])) for h in mx]
    fig.add_trace(go.Scatter(
        x=mx, y=my, xaxis=xa, yaxis=ya, mode="markers",
        marker=dict(color="white", size=3.2, line=dict(width=0)),
        hoverinfo="skip", showlegend=False,
    ))

annotations += [
    dict(text="Solar Plants", x=px(21), y=py(362), xref="paper", yref="paper",
         textangle=-90, showarrow=False, xanchor="center", yanchor="middle",
         font=dict(size=21, color="#262626", family="Open Sans")),
    dict(text="Wind Farms", x=px(21), y=py(1059), xref="paper", yref="paper",
         textangle=-90, showarrow=False, xanchor="center", yanchor="middle",
         font=dict(size=21, color="#262626", family="Open Sans")),
    dict(text="Time (h)", x=px(657), y=py(1422), xref="paper", yref="paper",
         showarrow=False, xanchor="center", yanchor="middle",
         font=dict(size=20, color="#262626", family="Open Sans")),
]

fig.update_layout(
    width=W, height=H, autosize=False,
    margin=dict(l=0, r=0, t=0, b=0),
    paper_bgcolor="white", plot_bgcolor="white",
    violinmode="overlay", violingap=0, showlegend=False,
    annotations=annotations, **layout_axes,
)

fig.write_html("out.html")
